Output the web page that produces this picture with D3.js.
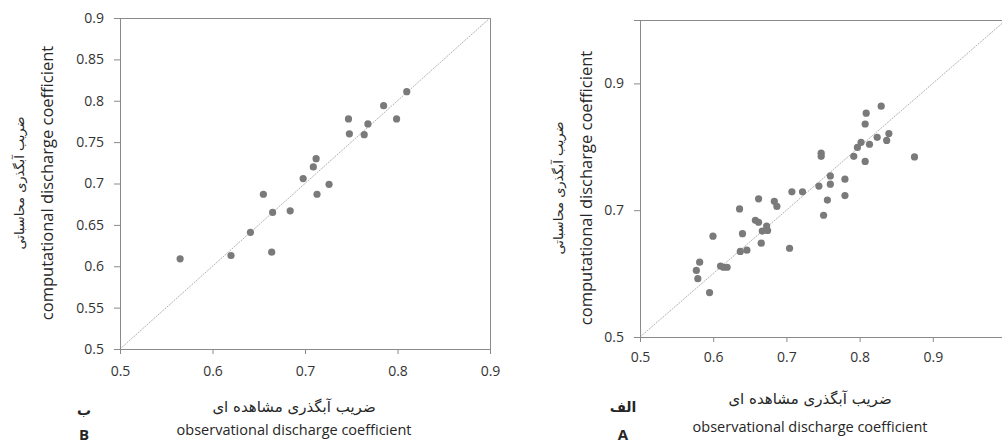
<!DOCTYPE html>
<html>
<head>
<meta charset="utf-8">
<script src="https://cdn.jsdelivr.net/npm/d3@7"></script>
<style>
  body { margin: 0; background: #fff; }
  svg { display: block; }
  .tick text { font-family: "Open Sans", sans-serif; font-size: 14px; fill: #333; }
  .domain, .tick line { stroke: #8a8a8a; }
</style>
</head>
<body>
<svg width="1002" height="445"></svg>
<script>
// chart B (left) - observed vs computed
const obsB  = [0.565, 0.620, 0.641, 0.655, 0.664, 0.665, 0.684, 0.698, 0.709, 0.712, 0.713, 0.726, 0.747, 0.748, 0.764, 0.768, 0.785, 0.799, 0.810];
const compB = [0.609, 0.613, 0.641, 0.687, 0.617, 0.665, 0.667, 0.706, 0.720, 0.730, 0.687, 0.699, 0.778, 0.760, 0.759, 0.772, 0.794, 0.778, 0.811];

// chart A (right)
const obsA  = [0.577, 0.579, 0.5815, 0.595, 0.5997, 0.610, 0.614, 0.619, 0.636, 0.637, 0.640, 0.646, 0.6576, 0.662, 0.662, 0.6656, 0.667, 0.673, 0.6743, 0.6835, 0.687, 0.7043, 0.7075, 0.722, 0.7444, 0.7475, 0.7475, 0.7508, 0.756, 0.760, 0.760, 0.780, 0.780, 0.792, 0.797, 0.802, 0.8076, 0.8076, 0.809, 0.8135, 0.824, 0.8295, 0.837, 0.840, 0.875];
const compA = [0.605, 0.592, 0.618, 0.570, 0.659, 0.612, 0.610, 0.610, 0.702, 0.635, 0.663, 0.637, 0.684, 0.681, 0.718, 0.648, 0.667, 0.675, 0.668, 0.714, 0.706, 0.640, 0.729, 0.729, 0.738, 0.790, 0.785, 0.692, 0.716, 0.754, 0.741, 0.749, 0.723, 0.785, 0.799, 0.807, 0.836, 0.777, 0.853, 0.804, 0.815, 0.864, 0.810, 0.821, 0.784];

const xTicksB = [0.5, 0.6, 0.7, 0.8, 0.9];
const yTicksB = [0.5, 0.55, 0.6, 0.65, 0.7, 0.75, 0.8, 0.85, 0.9];
const xTicksA = [0.5, 0.6, 0.7, 0.8, 0.9];
const yTicksA = [0.5, 0.7, 0.9];

const yLabelEn = "computational discharge coefficient";
const yLabelFa = "ضریب آبگذری محاسباتی";
const xLabelEn = "observational discharge coefficient";
const xLabelFa = "ضریب آبگذری مشاهده ای";

const svg = d3.select("svg");
const fmt = d => String(+d.toFixed(2));

function drawPanel(cfg) {
  const x = d3.scaleLinear().domain(cfg.xDomain).range([cfg.left, cfg.right]);
  const y = d3.scaleLinear().domain(cfg.yDomain).range([cfg.bottom, cfg.top]);
  const g = svg.append("g");

  // frame (top & right borders)
  g.append("line")
    .attr("x1", cfg.left).attr("x2", cfg.right)
    .attr("y1", cfg.top + 0.5).attr("y2", cfg.top + 0.5)
    .attr("stroke", "#8a8a8a");
  g.append("line")
    .attr("x1", cfg.right + 0.5).attr("x2", cfg.right + 0.5)
    .attr("y1", cfg.top).attr("y2", cfg.bottom)
    .attr("stroke", "#8a8a8a");

  // 1:1 line
  g.append("line")
    .attr("x1", x(cfg.xDomain[0])).attr("y1", y(cfg.yDomain[0]))
    .attr("x2", x(cfg.xDomain[1])).attr("y2", y(cfg.yDomain[1]))
    .attr("stroke", "#a8a8a8")
    .attr("stroke-width", 0.9)
    .attr("stroke-dasharray", "2,1");

  g.append("g")
    .attr("transform", `translate(0,${cfg.bottom})`)
    .call(d3.axisBottom(x).tickValues(cfg.xTicks).tickFormat(fmt).tickSizeOuter(0).tickSize(5).tickPadding(cfg.xPad));
  g.append("g")
    .attr("transform", `translate(${cfg.left},0)`)
    .call(d3.axisLeft(y).tickValues(cfg.yTicks).tickFormat(fmt).tickSizeOuter(0).tickSize(6).tickPadding(10));

  g.append("g").selectAll("circle")
    .data(cfg.obs)
    .enter().append("circle")
    .attr("cx", d => x(d))
    .attr("cy", (d, i) => y(cfg.comp[i]))
    .attr("r", 3.6)
    .attr("fill", "#7a7a7a");

  // y-axis titles
  g.append("text")
    .attr("transform", `translate(${cfg.yEnX},${cfg.yMid}) rotate(-90)`)
    .attr("text-anchor", "middle")
    .style("font-family", "'Open Sans', sans-serif")
    .style("font-size", "16.5px")
    .attr("fill", "#262626")
    .text(yLabelEn);
  g.append("text")
    .attr("transform", `translate(${cfg.yFaX},${cfg.yMid}) rotate(-90)`)
    .attr("text-anchor", "middle")
    .style("font-family", "'DejaVu Sans', sans-serif")
    .style("font-size", "13px")
    .attr("fill", "#262626")
    .text(yLabelFa);

  // x-axis titles
  g.append("text")
    .attr("x", cfg.xMid).attr("y", cfg.xFaY)
    .attr("text-anchor", "middle")
    .style("font-family", "'DejaVu Sans', sans-serif")
    .style("font-size", "15px")
    .attr("fill", "#262626")
    .text(xLabelFa);
  g.append("text")
    .attr("x", cfg.xMid).attr("y", cfg.xEnY)
    .attr("text-anchor", "middle")
    .style("font-family", "'Open Sans', sans-serif")
    .style("font-size", "14.5px")
    .attr("fill", "#262626")
    .text(xLabelEn);

  // panel letters
  g.append("text")
    .attr("x", cfg.tagX).attr("y", cfg.tagFaY)
    .attr("text-anchor", "middle")
    .style("font-family", "'DejaVu Sans', sans-serif")
    .style("font-size", "14px")
    .style("font-weight", "bold")
    .attr("fill", "#262626")
    .text(cfg.tagFa);
  g.append("text")
    .attr("x", cfg.tagX).attr("y", cfg.tagEnY)
    .attr("text-anchor", "middle")
    .style("font-family", "'Open Sans', sans-serif")
    .style("font-size", "15px")
    .style("font-weight", "bold")
    .attr("fill", "#262626")
    .text(cfg.tagEn);
}

drawPanel({
  obs: obsB, comp: compB,
  xDomain: [0.5, 0.9], yDomain: [0.5, 0.9],
  xTicks: xTicksB, yTicks: yTicksB,
  left: 120, right: 490, top: 18, bottom: 349, xPad: 12,
  yEnX: 53, yFaX: 24, yMid: 183,
  xMid: 294, xFaY: 412, xEnY: 435,
  tagX: 84, tagFaY: 415, tagEnY: 440, tagFa: "ب", tagEn: "B"
});

drawPanel({
  obs: obsA, comp: compA,
  xDomain: [0.5, 1.0], yDomain: [0.5, 1.0],
  xTicks: xTicksA, yTicks: yTicksA,
  left: 640, right: 1006, top: 20, bottom: 337, xPad: 10,
  yEnX: 592, yFaX: 563, yMid: 188,
  xMid: 810, xFaY: 404, xEnY: 432,
  tagX: 623, tagFaY: 412, tagEnY: 440, tagFa: "الف", tagEn: "A"
});
</script>
</body>
</html>
